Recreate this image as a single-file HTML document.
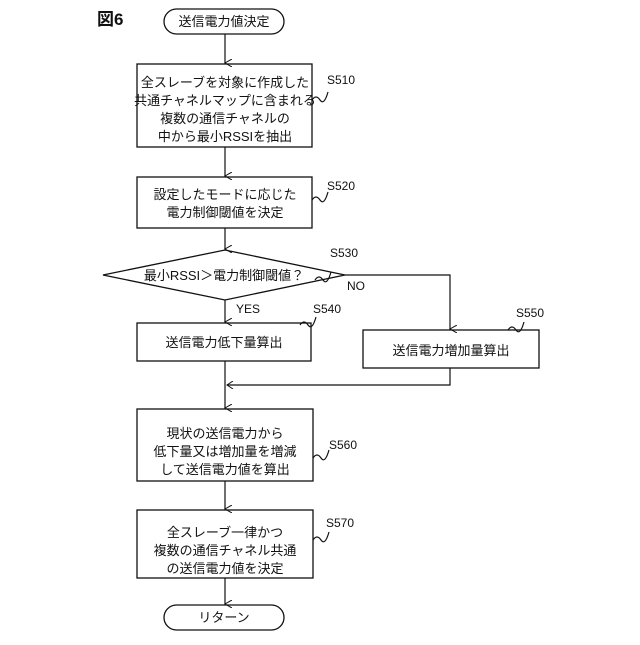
<!DOCTYPE html>
<html><head><meta charset="utf-8"><style>
html,body{margin:0;padding:0;background:#fff;}
svg text{font-family:"Liberation Sans","Noto Sans CJK JP",sans-serif;fill:#111;}
</style></head><body>
<svg width="640" height="640" viewBox="0 0 640 640" xmlns="http://www.w3.org/2000/svg">
<defs><marker id="a" markerWidth="8" markerHeight="8" refX="4" refY="7" orient="auto" markerUnits="userSpaceOnUse"><path d="M0,0 L4,7 L8,0" fill="none" stroke="#111" stroke-width="1"/></marker>
<marker id="l" markerWidth="8" markerHeight="8" refX="1" refY="4" orient="0" markerUnits="userSpaceOnUse"><path d="M7,0 L1,4 L7,8" fill="none" stroke="#111" stroke-width="1"/></marker></defs>
<g stroke="#111" stroke-width="1.3" fill="#fff">
<rect x="164" y="9" width="120" height="25" rx="12.5"/>
<rect x="137" y="64" width="175" height="83"/>
<rect x="137" y="177" width="175" height="51"/>
<polygon points="103,275 225,250 345,275 225,300"/>
<rect x="137" y="323" width="174" height="38"/>
<rect x="363" y="330" width="176" height="38"/>
<rect x="137" y="409" width="176" height="72"/>
<rect x="137" y="510" width="176" height="68"/>
<rect x="164" y="605" width="120" height="25" rx="12.5"/>
</g>
<g stroke="#111" stroke-width="1.2" fill="none">
<line x1="225" y1="34" x2="225" y2="63" marker-end="url(#a)"/>
<line x1="225" y1="147" x2="225" y2="176" marker-end="url(#a)"/>
<line x1="225" y1="228" x2="225" y2="249" marker-end="url(#a)"/>
<line x1="225" y1="300" x2="225" y2="322" marker-end="url(#a)"/>
<polyline points="345,275 450,275 450,329" marker-end="url(#a)"/>
<line x1="225" y1="361" x2="225" y2="408" marker-end="url(#a)"/>
<polyline points="450,368 450,385 227,385" marker-end="url(#l)"/>
<line x1="225" y1="481" x2="225" y2="509" marker-end="url(#a)"/>
<line x1="225" y1="578" x2="225" y2="604" marker-end="url(#a)"/>
<path d="M312,100 q4,-6 8,0 t8,-8" /><path d="M312,200 q4,-6 8,0 t8,-8"/>
<path d="M315,280 q4,-6 8,0 t8,-8"/><path d="M300,325 q4,-6 8,0 t8,-8"/>
<path d="M508,330 q4,-6 8,0 t8,-8"/><path d="M313,458 q4,-6 8,0 t8,-8"/>
<path d="M313,540 q4,-6 8,0 t8,-8"/>
</g>
<g font-size="13" text-anchor="middle">
<text x="224" y="26">送信電力値決定</text>
<text x="225" y="87">全スレーブを対象に作成した</text>
<text x="225" y="105">共通チャネルマップに含まれる</text>
<text x="225" y="123">複数の通信チャネルの</text>
<text x="225" y="141">中から最小RSSIを抽出</text>
<text x="225" y="199">設定したモードに応じた</text>
<text x="225" y="217">電力制御閾値を決定</text>
<text x="224" y="280">最小RSSI＞電力制御閾値？</text>
<text x="224" y="347">送信電力低下量算出</text>
<text x="451" y="355">送信電力増加量算出</text>
<text x="225" y="438">現状の送信電力から</text>
<text x="225" y="456">低下量又は増加量を増減</text>
<text x="225" y="474">して送信電力値を算出</text>
<text x="225" y="537">全スレーブ一律かつ</text>
<text x="225" y="555">複数の通信チャネル共通</text>
<text x="225" y="573">の送信電力値を決定</text>
<text x="224" y="622">リターン</text>
</g>
<g font-size="12">
<text x="327" y="84">S510</text><text x="327" y="190">S520</text>
<text x="330" y="257">S530</text><text x="347" y="290">NO</text>
<text x="236" y="313">YES</text><text x="313" y="313">S540</text>
<text x="516" y="317">S550</text><text x="329" y="449">S560</text>
<text x="326" y="527">S570</text>
</g>
<text x="97" y="25" font-size="17" font-weight="bold">図6</text>
</svg>
</body></html>
